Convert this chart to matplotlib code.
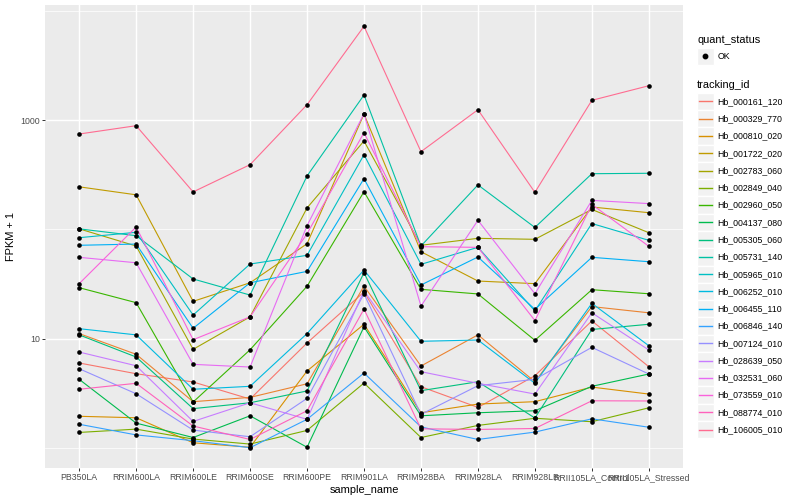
import numpy as np
import matplotlib
matplotlib.use("Agg")
import matplotlib.pyplot as plt
from matplotlib.lines import Line2D
from matplotlib.patches import Rectangle
from matplotlib.legend_handler import HandlerBase
from matplotlib.ticker import FixedLocator, NullFormatter

plt.rcParams["font.family"] = ["Liberation Sans", "DejaVu Sans"]

samples = ["PB350LA", "RRIM600LA", "RRIM600LE", "RRIM600SE", "RRIM600PE",
           "RRIM901LA", "RRIM928BA", "RRIM928LA", "RRIM928LB",
           "RRII105LA_Control", "RRII105LA_Stressed"]

# FPKM + 1
hb_000161_120 = [5.97, 4.76, 4.00, 2.79, 9.10, 26.7, 3.62, 2.34, 4.56, 14.5, 5.52]
hb_000329_770 = [11.1, 7.17, 2.64, 2.89, 3.85, 30.2, 5.60, 10.8, 4.02, 19.6, 17.2]
hb_000810_020 = [1.94, 1.88, 1.11, 1.01, 5.04, 13.5, 2.09, 2.51, 2.64, 3.59, 3.10]
hb_001722_020 = [245, 207, 21.9, 32.4, 73.8, 1137, 62.4, 33.6, 31.8, 160, 142]
hb_002783_060 = [101, 70.3, 7.96, 15.8, 157, 644, 71.4, 82.7, 81.0, 152, 93.1]
hb_002849_040 = [1.38, 1.48, 1.20, 1.08, 1.44, 3.91, 1.24, 1.60, 1.86, 1.73, 2.32]
hb_002960_050 = [29.2, 21.3, 2.62, 7.89, 30.1, 221, 28.2, 25.6, 9.63, 28.0, 25.7]
hb_004137_080 = [4.23, 1.68, 1.24, 1.96, 1.01, 12.8, 1.96, 2.09, 2.18, 3.65, 4.73]
hb_005305_060 = [10.8, 6.77, 2.28, 2.58, 3.31, 40.1, 3.33, 4.02, 1.87, 12.1, 13.5]
hb_005731_140 = [101, 87.4, 35.1, 25.0, 308, 1698, 70.3, 255, 104, 323, 326]
hb_005965_010 = [83.8, 93.9, 16.4, 48.1, 57.8, 482, 47.8, 68.4, 17.9, 113, 79.3]
hb_006252_010 = [12.3, 10.8, 3.43, 3.65, 11.1, 42.4, 9.43, 9.69, 3.89, 21.0, 8.59]
hb_006455_110 = [71.4, 73.3, 12.4, 32.4, 41.2, 291, 30.9, 55.8, 18.5, 55.4, 50.5]
hb_006846_140 = [1.64, 1.31, 1.16, 1.00, 1.82, 4.83, 1.55, 1.19, 1.39, 1.84, 1.54]
hb_007124_010 = [5.29, 3.12, 1.45, 1.26, 2.83, 25.6, 2.02, 3.70, 4.23, 8.30, 4.73]
hb_028639_050 = [7.52, 5.63, 1.74, 2.58, 1.82, 27.4, 4.97, 3.89, 3.10, 17.2, 7.85]
hb_032531_060 = [55.4, 49.4, 5.80, 5.48, 108, 1145, 19.8, 121, 25.7, 184, 172]
hb_073559_010 = [31.8, 105, 9.75, 15.8, 91.2, 767, 69.3, 68.4, 14.6, 169, 69.9]
hb_088774_010 = [3.43, 3.89, 1.58, 1.19, 2.18, 18.6, 1.49, 1.47, 1.50, 2.69, 2.68]
hb_106005_010 = [746, 889, 220, 391, 1384, 7230, 514, 1245, 218, 1518, 2065]

tracking_ids = ["Hb_000161_120", "Hb_000329_770", "Hb_000810_020", "Hb_001722_020",
                "Hb_002783_060", "Hb_002849_040", "Hb_002960_050", "Hb_004137_080",
                "Hb_005305_060", "Hb_005731_140", "Hb_005965_010", "Hb_006252_010",
                "Hb_006455_110", "Hb_006846_140", "Hb_007124_010", "Hb_028639_050",
                "Hb_032531_060", "Hb_073559_010", "Hb_088774_010", "Hb_106005_010"]
series = [hb_000161_120, hb_000329_770, hb_000810_020, hb_001722_020, hb_002783_060,
          hb_002849_040, hb_002960_050, hb_004137_080, hb_005305_060, hb_005731_140,
          hb_005965_010, hb_006252_010, hb_006455_110, hb_006846_140, hb_007124_010,
          hb_028639_050, hb_032531_060, hb_073559_010, hb_088774_010, hb_106005_010]

# ggplot2 default hue palette for 20 levels
colors = ["#F8766D", "#EA8331", "#D89000", "#C09B00", "#A3A500", "#7CAE00", "#39B600",
          "#00BB4E", "#00BF7D", "#00C1A3", "#00BFC4", "#00BAE0", "#00B0F6", "#35A2FF",
          "#9590FF", "#C77CFF", "#E76BF3", "#FA62DB", "#FF62BC", "#FF6C91"]


class KeyHandler(HandlerBase):
    """grey ggplot-like legend key with a line or a dot"""
    def create_artists(self, legend, orig_handle, xdescent, ydescent,
                       width, height, fontsize, trans):
        box = Rectangle((-xdescent, -ydescent), width, height, facecolor="#F2F2F2",
                        edgecolor="white", lw=1.0, transform=trans)
        yc = -ydescent + height / 2
        if orig_handle.get_marker() not in (None, "None", "", " "):
            mark = Line2D([-xdescent + width / 2], [yc], marker="o", ms=3.2,
                          color="black", ls="none", transform=trans)
        else:
            mark = Line2D([-xdescent + 0.1 * width, -xdescent + 0.9 * width], [yc, yc],
                          color=orig_handle.get_color(), lw=1.0, transform=trans)
        return [box, mark]


fig = plt.figure(figsize=(8, 5), dpi=100)
ax = fig.add_axes([45 / 800, 32 / 500, 638 / 800, 463 / 500])
ax.set_facecolor("#EBEBEB")

x = np.arange(len(samples))
for vals, col in zip(series, colors):
    ax.plot(x, vals, color=col, lw=0.8, zorder=2)
for vals in series:
    ax.scatter(x, vals, s=11, color="black", zorder=3, linewidths=0)

ax.set_yscale("log")
ax.set_ylim(0.652, 11330)
ax.set_xlim(-0.6, 10.6)
ax.yaxis.set_major_locator(FixedLocator([10, 1000]))
ax.set_yticks([10, 1000], labels=["10", "1000"])
ax.yaxis.set_minor_locator(FixedLocator([1, 100, 10000]))
ax.yaxis.set_minor_formatter(NullFormatter())
ax.set_xticks(x, labels=samples)

ax.grid(which="major", color="white", lw=1.07)
ax.grid(which="minor", axis="y", color="white", lw=0.53)
ax.set_axisbelow(True)
for s in ax.spines.values():
    s.set_visible(False)
ax.tick_params(which="major", length=2.0, width=0.7, color="#333333",
               labelsize=6.3, labelcolor="#4D4D4D", pad=1.8)
ax.tick_params(which="minor", length=0)
ax.set_xlabel("sample_name", fontsize=7.9, labelpad=2)
ax.set_ylabel("FPKM + 1", fontsize=7.9, labelpad=3)

legend_style = dict(loc="upper left", frameon=False, title_fontsize=7.9, fontsize=6.3,
                    handlelength=1.9, handleheight=2.66, labelspacing=0.0,
                    handletextpad=0.4, borderpad=0, borderaxespad=0,
                    alignment="left", handler_map={Line2D: KeyHandler()})

ok_handle = Line2D([], [], marker="o", color="black", ls="none")
leg1 = fig.legend([ok_handle], ["OK"], title="quant_status",
                  bbox_to_anchor=(697 / 800, 1 - 35 / 500), **legend_style)
leg1._legend_box.sep = 2

line_handles = [Line2D([], [], color=c) for c in colors]
leg2 = fig.legend(line_handles, tracking_ids, title="tracking_id",
                  bbox_to_anchor=(697 / 800, 1 - 80 / 500), **legend_style)
leg2._legend_box.sep = 2

fig.savefig("out.png", dpi=100)
